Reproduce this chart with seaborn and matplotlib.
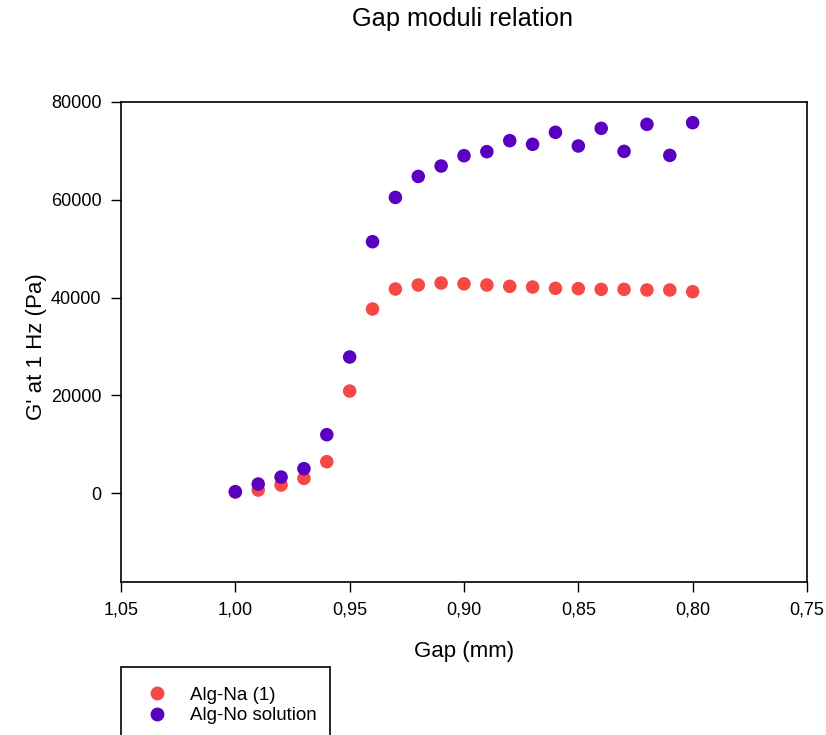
import matplotlib
matplotlib.use("Agg")
import matplotlib.pyplot as plt
import matplotlib.ticker as mticker
from matplotlib.patches import Rectangle
import seaborn as sns
import pandas as pd

gap = [1.00, 0.99, 0.98, 0.97, 0.96, 0.95, 0.94, 0.93, 0.92, 0.91, 0.90,
       0.89, 0.88, 0.87, 0.86, 0.85, 0.84, 0.83, 0.82, 0.81, 0.80]
alg_na = [200, 610, 1640, 3000, 6410, 20870, 37650, 41740, 42560, 42970, 42800,
          42560, 42290, 42150, 41880, 41810, 41670, 41670, 41540, 41540, 41190]
alg_no = [270, 1840, 3270, 4980, 11940, 27830, 51420, 60480, 64770, 66900, 69010,
          69840, 72090, 71340, 73800, 71000, 74610, 69900, 75430, 69080, 75770]
series_names = ["Alg-Na (1)", "Alg-No solution"]
colors = ["#F64945", "#5A00C0"]
x_ticks = [1.05, 1.00, 0.95, 0.90, 0.85, 0.80, 0.75]
y_ticks = [0, 20000, 40000, 60000, 80000]

df = pd.DataFrame({
    "gap": gap * 2,
    "g": alg_na + alg_no,
    "series": [series_names[0]] * len(gap) + [series_names[1]] * len(gap),
})

sns.set_style("white")
plt.rcParams["font.family"] = ["Liberation Sans", "DejaVu Sans"]
for k in ["text.color", "axes.labelcolor", "xtick.color", "ytick.color"]:
    plt.rcParams[k] = "black"

W, H = 826, 735
fig = plt.figure(figsize=(W / 100, H / 100), dpi=100)
ax = fig.add_axes([121 / W, 1 - 582 / H, (807 - 121) / W, (582 - 102) / H])

sns.scatterplot(data=df, x="gap", y="g", hue="series", palette=colors,
                hue_order=series_names, s=95, linewidth=0, ax=ax, legend=False)

ax.set_xlim(1.05, 0.75)
ax.set_ylim(-18200, 80000)
ax.set_xticks(x_ticks)
ax.set_yticks(y_ticks)
ax.xaxis.set_major_formatter(mticker.FuncFormatter(lambda v, p: f"{v:.2f}".replace(".", ",")))
ax.yaxis.set_major_formatter(mticker.FuncFormatter(lambda v, p: f"{int(round(v))}"))
ax.tick_params(axis="both", direction="out", length=7, width=1, labelsize=13,
               colors="black", bottom=True, left=True, top=False, right=False, pad=7)
for sp in ax.spines.values():
    sp.set_visible(True)
    sp.set_color("black")
    sp.set_linewidth(1.2)

ax.set_xlabel("Gap (mm)", fontsize=16)
ax.set_ylabel("G' at 1 Hz (Pa)", fontsize=16)
ax.xaxis.set_label_coords(0.5, (582 - 651) / 480)
ax.xaxis.label.set_va("center")
ax.yaxis.set_label_coords((37 - 121) / 686, 0.49)
ax.yaxis.label.set_va("center")
fig.text(463 / W, 1 - 19 / H, "Gap moduli relation", ha="center", va="center", fontsize=18.3)

# legend box
fig.patches.append(Rectangle((121 / W, -0.05), (330 - 121) / W, 0.05 + (1 - 667 / H),
                             transform=fig.transFigure, fill=False,
                             edgecolor="black", linewidth=1.2))
handles = [plt.Line2D([], [], marker="o", linestyle="", markersize=10,
                      markerfacecolor=c, markeredgewidth=0) for c in colors]
fig.legend(handles, series_names, loc="upper left",
           bbox_to_anchor=(138 / W, 1 - 677 / H), frameon=False, fontsize=13.5,
           handlelength=1.0, handletextpad=1.25, labelspacing=0.2, borderpad=0)

fig.savefig("out.png", dpi=100)
